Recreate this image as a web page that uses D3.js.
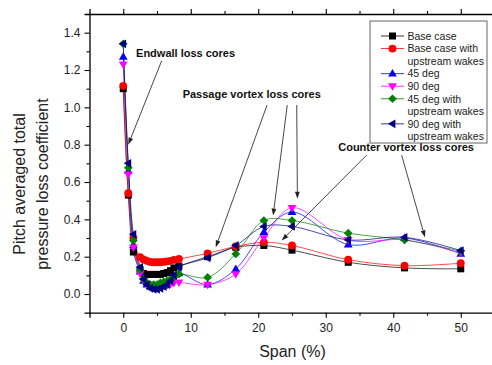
<!DOCTYPE html>
<html>
<head>
<meta charset="utf-8">
<script src="https://cdn.jsdelivr.net/npm/d3@7"></script>
<style>
  html, body { margin: 0; padding: 0; background: #fff; }
  svg { display: block; font-family: "Liberation Sans", Arial, sans-serif; }
</style>
</head>
<body>
<svg id="chart" width="492" height="365"></svg>
<script>
// Span positions (%) of the measurement traverse
const span = [0, 0.75, 1.5, 2.5, 3, 3.5, 4, 4.5, 5, 5.5, 6, 6.5, 7, 7.5, 8.25, 12.5, 16.67, 20.83, 25, 33.33, 41.67, 50];

// Pitch averaged total pressure loss coefficient per configuration
const baseCase      = [1.10, 0.53, 0.225, 0.13, 0.11, 0.105, 0.105, 0.105, 0.105, 0.105, 0.11, 0.115, 0.125, 0.14, 0.15, 0.20, 0.25, 0.26, 0.235, 0.17, 0.14, 0.135];
const baseWakes     = [1.115, 0.54, 0.30, 0.197, 0.185, 0.178, 0.172, 0.17, 0.17, 0.17, 0.172, 0.175, 0.178, 0.183, 0.188, 0.218, 0.255, 0.277, 0.26, 0.184, 0.152, 0.165];
const deg45         = [1.27, 0.66, 0.26, 0.12, 0.07, 0.05, 0.04, 0.035, 0.035, 0.04, 0.045, 0.05, 0.06, 0.08, 0.11, 0.05, 0.134, 0.331, 0.439, 0.265, 0.30, 0.215];
const deg90         = [1.23, 0.641, 0.25, 0.11, 0.07, 0.05, 0.045, 0.04, 0.04, 0.045, 0.05, 0.05, 0.055, 0.06, 0.062, 0.05, 0.107, 0.30, 0.462, 0.29, 0.29, 0.22];
const deg45Wakes    = [1.34, 0.677, 0.287, 0.13, 0.08, 0.06, 0.05, 0.05, 0.05, 0.06, 0.065, 0.07, 0.08, 0.09, 0.107, 0.089, 0.215, 0.394, 0.394, 0.326, 0.29, 0.23];
const deg90Wakes    = [1.34, 0.70, 0.32, 0.143, 0.08, 0.05, 0.03, 0.025, 0.025, 0.03, 0.04, 0.05, 0.07, 0.10, 0.143, 0.194, 0.26, 0.362, 0.362, 0.29, 0.304, 0.233];

const seriesNames   = ["Base case", "Base case with\nupstream wakes", "45 deg", "90 deg", "45 deg with\nupstream wakes", "90 deg with\nupstream wakes"];
const seriesValues  = [baseCase, baseWakes, deg45, deg90, deg45Wakes, deg90Wakes];
const seriesColors  = ["#000000", "#ff0000", "#0000ff", "#ff00ff", "#008000", "#000080"];
const seriesSymbols = ["square", "circle", "triUp", "triDown", "diamond", "triLeft"];

// Axis ticks
const xMajor = [0, 10, 20, 30, 40, 50];
const xMinor = [5, 15, 25, 35, 45];
const yMajor = [0, 0.2, 0.4, 0.6, 0.8, 1.0, 1.2, 1.4];
const yMinor = [0.1, 0.3, 0.5, 0.7, 0.9, 1.1, 1.3];

// Annotations: label position and arrow segments in data units
const notes = [
  { text: "Endwall loss cores", x: 1.9, y: 1.269,
    arrows: [[5.7, 1.25, 0.74, 0.80]] },
  { text: "Passage vortex loss cores", x: 8.8, y: 1.048,
    arrows: [[21.3, 1.012, 13.7, 0.25], [24.3, 1.012, 22.2, 0.42], [25.7, 1.012, 25.8, 0.51]] },
  { text: "Counter vortex loss cores", x: 31.85, y: 0.765,
    arrows: [[36.06, 0.744, 23.47, 0.287], [41.24, 0.744, 44.7, 0.304]] }
];

const svg = d3.select("#chart");
const x = d3.scaleLinear().domain([-5, 55]).range([89.5, 494.5]);
const y = d3.scaleLinear().domain([-0.1, 1.5]).range([312.7, 14]);

// ---- axes ----
function styleAxis(g) {
  g.selectAll(".domain").attr("stroke", "#000").attr("stroke-width", 1.3);
  g.selectAll(".tick line").attr("stroke", "#000").attr("stroke-width", 1.1);
  g.selectAll(".tick text").attr("fill", "#222").style("font-size", "12px")
    .style("font-family", "'Liberation Sans', Arial, sans-serif");
}
const xb = svg.append("g").attr("transform", `translate(0,${y(-0.1)})`)
  .call(d3.axisBottom(x).tickValues(xMajor).tickSize(5).tickPadding(6).tickFormat(d3.format("d")));
xb.append("g").call(d3.axisBottom(x).tickValues(xMinor).tickSize(3).tickFormat(""))
  .select(".domain").remove();
styleAxis(xb);

const xt = svg.append("g").attr("transform", `translate(0,${y(1.5)})`)
  .call(d3.axisTop(x).tickValues(xMajor).tickSize(5).tickFormat(""));
xt.append("g").call(d3.axisTop(x).tickValues(xMinor).tickSize(3).tickFormat(""))
  .select(".domain").remove();
styleAxis(xt);

const yl = svg.append("g").attr("transform", `translate(${x(-5)},0)`)
  .call(d3.axisLeft(y).tickValues(yMajor).tickSize(5).tickPadding(4).tickFormat(d3.format(".1f")));
yl.append("g").call(d3.axisLeft(y).tickValues(yMinor).tickSize(3).tickFormat(""))
  .select(".domain").remove();
styleAxis(yl);

// Axis titles
svg.append("text").attr("x", 292.5).attr("y", 357).attr("text-anchor", "middle")
  .style("font-size", "16px").attr("fill", "#222").text("Span (%)");
const yTitle = svg.append("text").attr("transform", "translate(25,184) rotate(-90)")
  .attr("text-anchor", "middle").style("font-size", "16px").attr("fill", "#222");
yTitle.append("tspan").attr("x", 0).attr("dy", 0).text("Pitch averaged total");
yTitle.append("tspan").attr("x", 0).attr("dy", 23).text("pressure loss coefficient");

// ---- markers ----
function marker(g, kind, color, s) {
  if (kind === "square") {
    g.append("rect").attr("x", -s / 2).attr("y", -s / 2).attr("width", s).attr("height", s).attr("fill", color);
  } else if (kind === "circle") {
    g.append("circle").attr("r", s * 0.56).attr("fill", color);
  } else if (kind === "diamond") {
    const h = s * 0.62;
    g.append("path").attr("d", `M0,${-h}L${h},0L0,${h}L${-h},0Z`).attr("fill", color);
  } else {
    const r = s * 0.66;
    const rot = { triUp: 0, triDown: 180, triLeft: -90 }[kind];
    g.append("path")
      .attr("d", `M0,${-r}L${r * 0.95},${r * 0.62}L${-r * 0.95},${r * 0.62}Z`)
      .attr("transform", `rotate(${rot})`).attr("fill", color);
  }
}

// ---- series ----
const line = d3.line().x(d => x(d[0])).y(d => y(d[1])).curve(d3.curveCatmullRom.alpha(0.5));
const plot = svg.append("g");
seriesValues.forEach((vals, i) => {
  const pts = span.map((s, j) => [s, vals[j]]);
  plot.append("path").datum(pts).attr("d", line).attr("fill", "none")
    .attr("stroke", seriesColors[i]).attr("stroke-width", 1).attr("stroke-opacity", 0.7);
});
seriesValues.forEach((vals, i) => {
  const pts = span.map((s, j) => [s, vals[j]]);
  plot.append("g").selectAll("g").data(pts).join("g")
    .attr("transform", d => `translate(${x(d[0])},${y(d[1])})`)
    .each(function () { marker(d3.select(this), seriesSymbols[i], seriesColors[i], 7); });
});

// ---- annotations ----
const ann = svg.append("g");
function arrow(x1, y1, x2, y2) {
  const X1 = x(x1), Y1 = y(y1), X2 = x(x2), Y2 = y(y2);
  const a = Math.atan2(Y2 - Y1, X2 - X1), L = 7, W = 2.4;
  const bx = X2 - L * Math.cos(a), by = Y2 - L * Math.sin(a);
  ann.append("line").attr("x1", X1).attr("y1", Y1).attr("x2", bx).attr("y2", by)
    .attr("stroke", "#333").attr("stroke-width", 0.9);
  ann.append("path")
    .attr("d", `M${X2},${Y2}L${bx - W * Math.sin(a)},${by + W * Math.cos(a)}L${bx + W * Math.sin(a)},${by - W * Math.cos(a)}Z`)
    .attr("fill", "#222");
}
notes.forEach(n => {
  ann.append("text").attr("x", x(n.x)).attr("y", y(n.y))
    .style("font-size", "11px").style("font-weight", "bold").attr("fill", "#111").text(n.text);
  n.arrows.forEach(a => arrow(...a));
});

// ---- legend ----
const lg = svg.append("g").attr("transform", "translate(370,21)");
lg.append("rect").attr("x", 0).attr("y", 0).attr("width", 117).attr("height", 122)
  .attr("fill", "#fff").attr("stroke", "#666").attr("stroke-width", 1);
let row = 0;
seriesNames.forEach((name, i) => {
  const cy = 15 + row * 12.55;
  const item = lg.append("g").attr("transform", `translate(22.5,${cy})`);
  item.append("line").attr("x1", -11.5).attr("x2", 11.5).attr("stroke", seriesColors[i])
    .attr("stroke-width", 1).attr("stroke-opacity", 0.8);
  marker(item, seriesSymbols[i], seriesColors[i], 7);
  name.split("\n").forEach((t, k) => {
    lg.append("text").attr("x", 37.5).attr("y", cy + 3.8 + k * 12.55)
      .style("font-size", "10.5px").attr("fill", "#222").text(t);
  });
  row += name.split("\n").length;
});
</script>
</body>
</html>
